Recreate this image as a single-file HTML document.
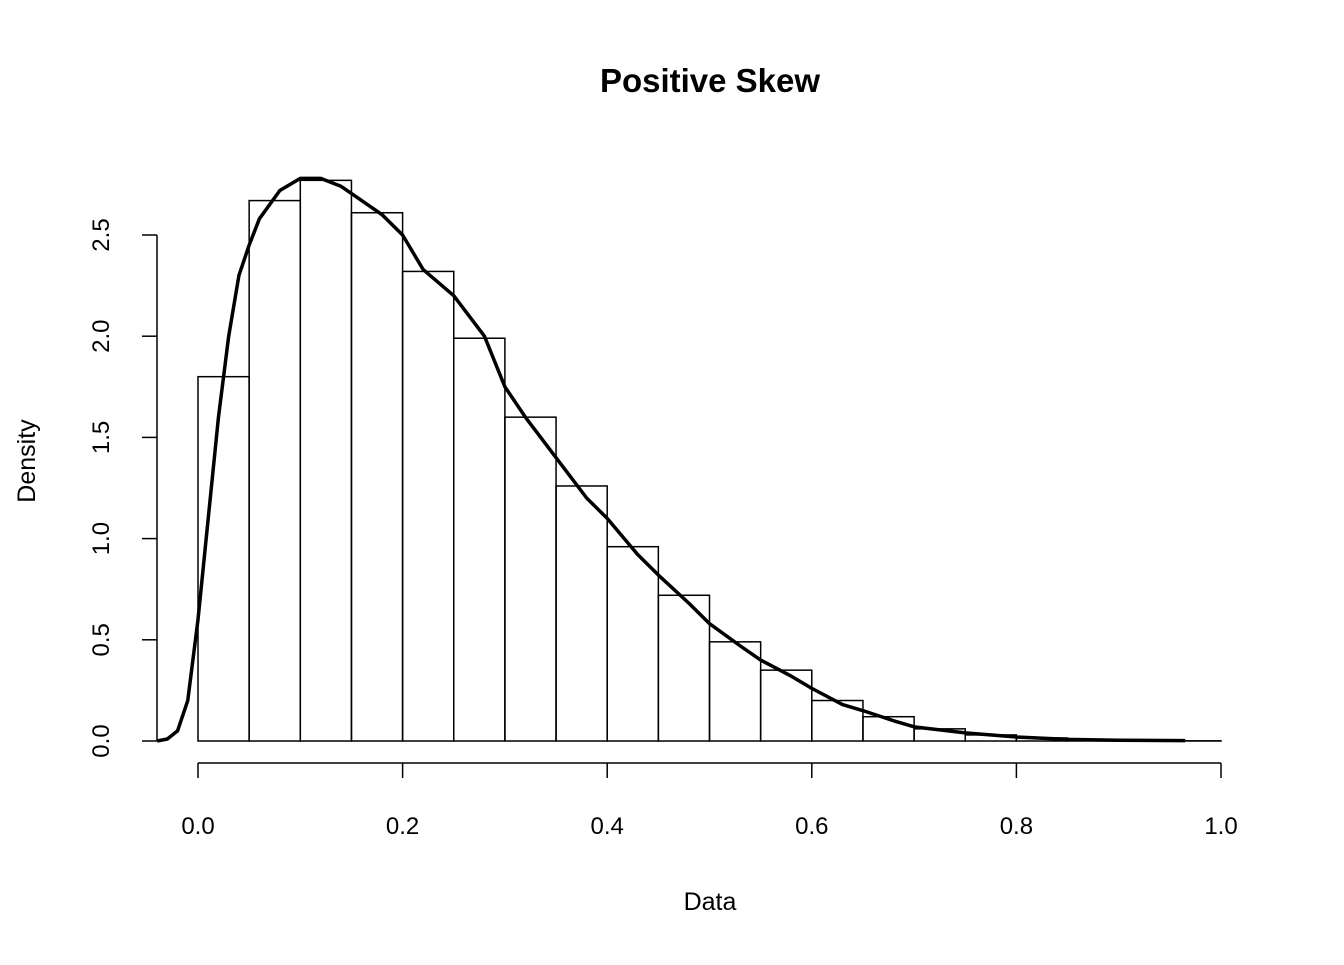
<!DOCTYPE html>
<html><head><meta charset="utf-8"><style>
body{margin:0;background:#fff}
svg text{font-family:"Liberation Sans",Arial,sans-serif;fill:#000}
</style></head><body>
<svg id="chart" width="1344" height="960">
<text x="710" y="92" font-size="33" font-weight="bold" text-anchor="middle">Positive Skew</text>
<text x="710" y="910" font-size="25" text-anchor="middle">Data</text>
<text transform="translate(35,461) rotate(-90)" font-size="25" text-anchor="middle">Density</text>
<g id="bars"></g><g id="axes"></g>
</svg>
<script>
const binStarts=[0,0.05,0.1,0.15,0.2,0.25,0.3,0.35,0.4,0.45,0.5,0.55,0.6,0.65,0.7,0.75,0.8,0.85,0.9,0.95];
const binHeights=[1.80,2.67,2.77,2.61,2.32,1.99,1.60,1.26,0.96,0.72,0.49,0.35,0.20,0.12,0.06,0.03,0.015,0.006,0.003,0.001];
const binWidth=0.05;
const xTicks=[0,0.2,0.4,0.6,0.8,1.0];
const xTickLabels=["0.0","0.2","0.4","0.6","0.8","1.0"];
const yTicks=[0,0.5,1,1.5,2,2.5];
const yTickLabels=["0.0","0.5","1.0","1.5","2.0","2.5"];
const densX=[-0.04,-0.03,-0.02,-0.01,0,0.01,0.02,0.03,0.04,0.05,0.06,0.08,0.1,0.12,0.14,0.16,0.18,0.2,0.22,0.25,0.28,0.3,0.32,0.35,0.38,0.4,0.43,0.45,0.48,0.5,0.53,0.55,0.58,0.6,0.63,0.65,0.68,0.7,0.75,0.8,0.85,0.9,0.965];
const densY=[0,0.01,0.05,0.2,0.6,1.1,1.6,2.0,2.3,2.45,2.58,2.72,2.78,2.78,2.74,2.67,2.6,2.5,2.33,2.2,2.0,1.75,1.6,1.4,1.2,1.1,0.92,0.82,0.68,0.58,0.47,0.4,0.32,0.26,0.18,0.15,0.1,0.07,0.04,0.02,0.008,0.004,0.002];
const X=v=>198+v*1023, Y=v=>741-v*202.4;
const NS="http://www.w3.org/2000/svg";
const svg=document.getElementById('chart');
function mk(tag,attrs,parent){const e=document.createElementNS(NS,tag);for(const k in attrs)e.setAttribute(k,attrs[k]);(parent||svg).appendChild(e);return e;}
const bars=document.getElementById('bars'),axes=document.getElementById('axes');
binStarts.forEach((s,i)=>{
 const r=mk('rect',{x:X(s),y:Y(binHeights[i]),width:X(s+binWidth)-X(s),height:Y(0)-Y(binHeights[i]),fill:'none',stroke:'#000','stroke-width':1.5},bars);
 
 
});
const pl=mk('polyline',{points:densX.map((x,i)=>X(x)+','+Y(densY[i])).join(' '),fill:'none',stroke:'#000','stroke-width':3.5,'stroke-linejoin':'round'});


const xa=mk('line',{x1:X(0),x2:X(1),y1:763,y2:763,stroke:'#000','stroke-width':1.5},axes);


xTicks.forEach((t,i)=>{
 mk('line',{x1:X(t),x2:X(t),y1:763,y2:778,stroke:'#000','stroke-width':1.5},axes);
 const tx=mk('text',{x:X(t),y:834,'font-size':24,'text-anchor':'middle'},axes);tx.textContent=xTickLabels[i];
 
 
});
const ya=mk('line',{x1:157,x2:157,y1:Y(0),y2:Y(2.5),stroke:'#000','stroke-width':1.5},axes);


yTicks.forEach((t,i)=>{
 mk('line',{x1:142,x2:157,y1:Y(t),y2:Y(t),stroke:'#000','stroke-width':1.5},axes);
 const tx=mk('text',{transform:`translate(109,${Y(t)}) rotate(-90)`,'font-size':24,'text-anchor':'middle'},axes);tx.textContent=yTickLabels[i];
 
 
});
</script>
</body></html>
